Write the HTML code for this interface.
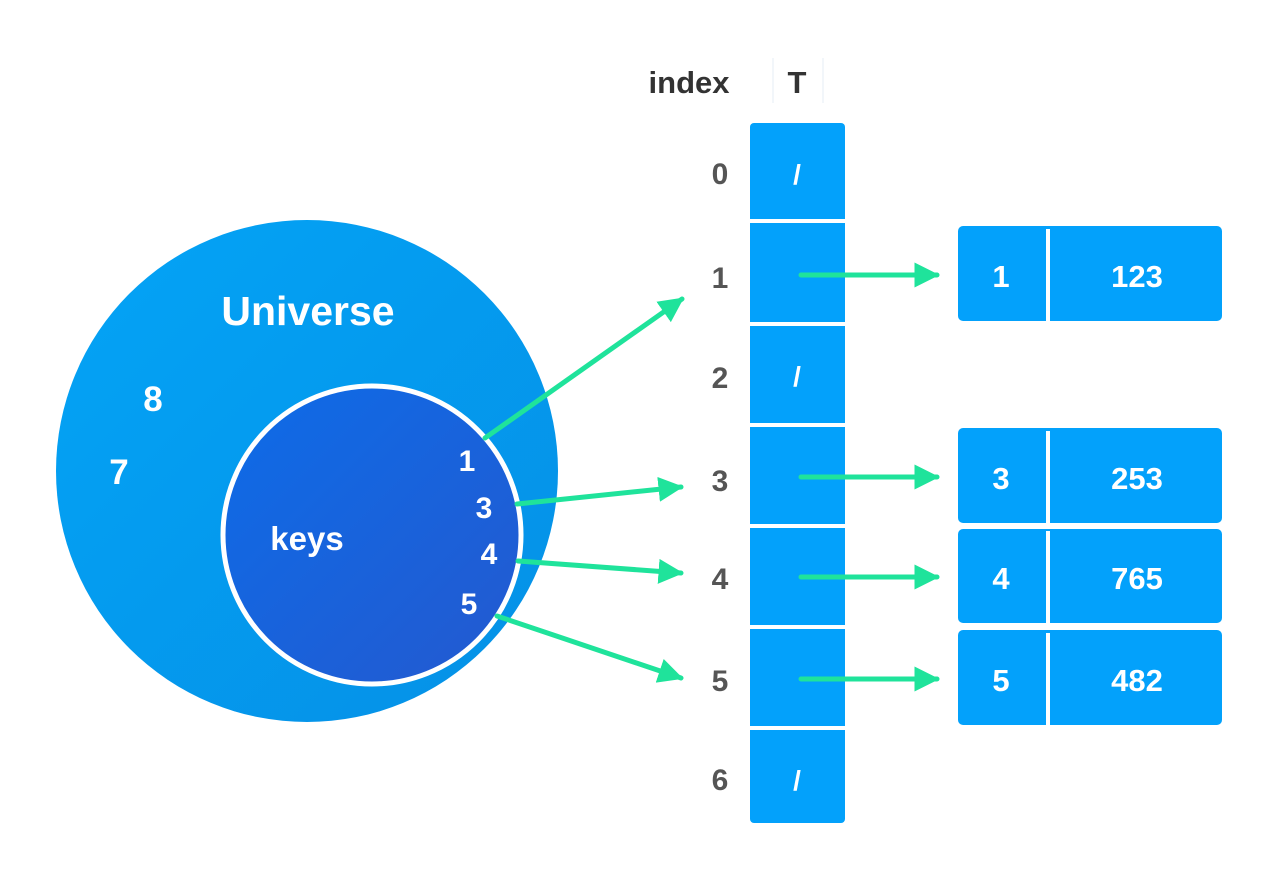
<!DOCTYPE html>
<html><head><meta charset="utf-8"><style>html,body{margin:0;padding:0;background:#fff}svg{display:block}</style></head>
<body>
<svg width="1280" height="882" viewBox="0 0 1280 882" xmlns="http://www.w3.org/2000/svg" font-family="Liberation Sans, sans-serif" font-weight="bold">
<defs>
<linearGradient id="gb" x1="0" y1="0" x2="1" y2="1"><stop offset="0" stop-color="#04a4f6"/><stop offset="1" stop-color="#0590e6"/></linearGradient>
<linearGradient id="gi" x1="0" y1="0" x2="1" y2="1"><stop offset="0" stop-color="#0d6ce8"/><stop offset="1" stop-color="#2459cf"/></linearGradient>
<marker id="ah" viewBox="0 0 10 10" refX="9" refY="5" markerWidth="5" markerHeight="5" orient="auto" markerUnits="strokeWidth"><path d="M0,0 L10,5 L0,10 Z" fill="#1fe39b"/></marker>
</defs>
<circle cx="307" cy="471" r="251" fill="url(#gb)"/>
<circle cx="372" cy="535" r="149" fill="url(#gi)" stroke="#fff" stroke-width="5"/>
<g fill="#fff" text-anchor="middle">
<text x="308" y="325" font-size="41">Universe</text>
<text x="153" y="411" font-size="35">8</text>
<text x="119" y="484" font-size="35">7</text>
<text x="307" y="550" font-size="33">keys</text>
<text x="467" y="471" font-size="30">1</text>
<text x="484" y="518" font-size="30">3</text>
<text x="489" y="564" font-size="30">4</text>
<text x="469" y="614" font-size="30">5</text>
</g>
<text x="689" y="93" font-size="31" fill="#333" text-anchor="middle">index</text>
<text x="797" y="93" font-size="31" fill="#333" text-anchor="middle">T</text>
<line x1="773" y1="58" x2="773" y2="103" stroke="#e6eef5" stroke-width="1"/>
<line x1="823" y1="58" x2="823" y2="103" stroke="#e6eef5" stroke-width="1"/>
<rect x="750" y="123" width="95" height="700" rx="4" fill="#03a1fb"/>
<g fill="#fff">
<rect x="750" y="219" width="95" height="4"/>
<rect x="750" y="322" width="95" height="4"/>
<rect x="750" y="423" width="95" height="4"/>
<rect x="750" y="524" width="95" height="4"/>
<rect x="750" y="625" width="95" height="4"/>
<rect x="750" y="726" width="95" height="4"/>
</g>
<g fill="#555" font-size="30" text-anchor="middle">
<text x="720" y="184">0</text><text x="720" y="288">1</text><text x="720" y="388">2</text><text x="720" y="491">3</text><text x="720" y="589">4</text><text x="720" y="691">5</text><text x="720" y="790">6</text>
</g>
<g fill="#fff" font-size="28" text-anchor="middle">
<text x="797" y="184">/</text><text x="797" y="386">/</text><text x="797" y="790">/</text>
</g>
<g fill="#03a1fb">
<rect x="958" y="226" width="264" height="95" rx="5"/>
<rect x="958" y="428" width="264" height="95" rx="5"/>
<rect x="958" y="529" width="264" height="94" rx="5"/>
<rect x="958" y="630" width="264" height="95" rx="5"/>
</g>
<g fill="#fff">
<rect x="1046" y="229" width="4" height="92"/>
<rect x="1046" y="431" width="4" height="92"/>
<rect x="1046" y="531" width="4" height="92"/>
<rect x="1046" y="633" width="4" height="92"/>
</g>
<g fill="#fff" font-size="31" text-anchor="middle">
<text x="1001" y="287">1</text><text x="1137" y="287">123</text>
<text x="1001" y="489">3</text><text x="1137" y="489">253</text>
<text x="1001" y="589">4</text><text x="1137" y="589">765</text>
<text x="1001" y="691">5</text><text x="1137" y="691">482</text>
</g>
<g stroke="#1fe39b" stroke-width="5" stroke-linecap="round" marker-end="url(#ah)" fill="none">
<line x1="801" y1="275" x2="937" y2="275"/>
<line x1="801" y1="477" x2="937" y2="477"/>
<line x1="801" y1="577" x2="937" y2="577"/>
<line x1="801" y1="679" x2="937" y2="679"/>
<line x1="485" y1="438" x2="682" y2="299"/>
<line x1="517" y1="504" x2="681" y2="487"/>
<line x1="518" y1="561" x2="681" y2="573"/>
<line x1="497" y1="616" x2="681" y2="678"/>
</g>
</svg>
</body></html>
